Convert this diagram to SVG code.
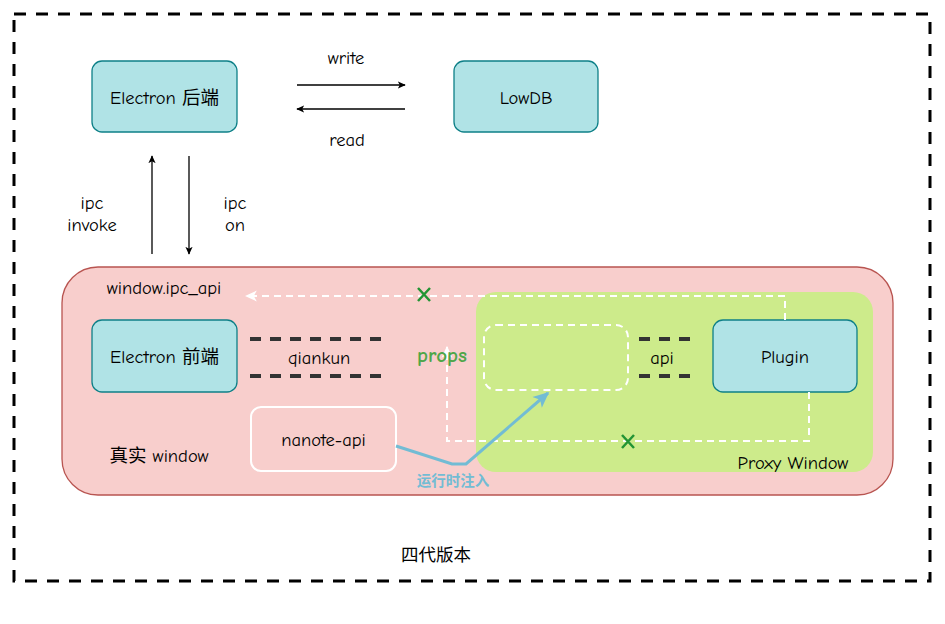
<svg xmlns="http://www.w3.org/2000/svg" width="945" height="624" viewBox="0 0 945 624">
<defs>
<style>
text{font-family:"Comic Neue","Liberation Sans","DejaVu Sans","Noto Sans CJK SC",sans-serif;font-size:18.5px;fill:#000;text-anchor:middle;dominant-baseline:central}
.node{fill:#b0e3e6;stroke:#0e8088;stroke-width:1.3}
.blk{stroke:#000;stroke-width:1.3;fill:none}
.wd{stroke:#fff;stroke-width:2;fill:none;stroke-dasharray:7 5}
.qd{stroke:#333;stroke-width:4;fill:none;stroke-dasharray:11 9}
.x{stroke:#239434;stroke-width:2.5}
</style>
<marker id="ab" viewBox="0 0 10 10" refX="9" refY="5" markerWidth="8" markerHeight="8" markerUnits="userSpaceOnUse" orient="auto"><path d="M0,0.5 L10,5 L0,9.5 L2.5,5 Z" fill="#000"/></marker>
<marker id="aw" viewBox="0 0 10 10" refX="9" refY="5" markerWidth="12" markerHeight="12" markerUnits="userSpaceOnUse" orient="auto"><path d="M0,0.5 L10,5 L0,9.5 L2.5,5 Z" fill="#fff"/></marker>
<marker id="abl" viewBox="0 0 10 10" refX="9" refY="5" markerWidth="16" markerHeight="16" markerUnits="userSpaceOnUse" orient="auto"><path d="M0,0.5 L10,5 L0,9.5 L2.5,5 Z" fill="#72bcd4"/></marker>
</defs>
<rect id="frame" x="14" y="14" width="916" height="567" fill="none" stroke="#000" stroke-width="3" stroke-dasharray="12 10"/>
<text x="436" y="555" style="font-size:17.5px">四代版本</text>

<g id="real-window">
<rect x="62" y="267" width="831" height="228" rx="36" fill="#f8cecc" stroke="#b85450" stroke-width="1.3"/>
<text x="164" y="288">window.ipc_api</text>
<text x="159" y="456">真实 window</text>
</g>
<g id="proxy-window">
<rect x="476" y="292" width="397" height="180" rx="20" fill="#cdeb8b"/>
<text x="793" y="463">Proxy Window</text>
</g>
<g id="props-slot">
<rect x="484" y="325" width="144" height="65" rx="12" class="wd"/>
</g>

<g id="electron-backend"><rect class="node" x="92" y="61" width="145" height="71" rx="10"/><text x="164.5" y="98">Electron 后端</text></g>
<g id="lowdb"><rect class="node" x="454" y="61" width="144" height="71" rx="10"/><text x="526" y="98">LowDB</text></g>
<g id="electron-frontend"><rect class="node" x="92" y="320" width="145" height="72" rx="10"/><text x="164.5" y="357">Electron 前端</text></g>
<g id="plugin"><rect class="node" x="713" y="320" width="144" height="72" rx="10"/><text x="785" y="357">Plugin</text></g>
<g id="nanote-api"><rect x="251" y="407" width="145" height="64" rx="10" fill="#f8cecc" stroke="#fff" stroke-width="2"/><text x="323.5" y="440">nanote-api</text></g>

<g id="connectors">
<line class="blk" x1="297" y1="85" x2="405" y2="85" marker-end="url(#ab)"/>
<line class="blk" x1="405" y1="109" x2="297" y2="109" marker-end="url(#ab)"/>
<line class="blk" x1="152" y1="254" x2="152" y2="156" marker-end="url(#ab)"/>
<line class="blk" x1="189" y1="156" x2="189" y2="254" marker-end="url(#ab)"/>
<line class="qd" x1="250" y1="339" x2="389" y2="339"/>
<line class="qd" x1="250" y1="376" x2="389" y2="376"/>
<line class="qd" x1="639" y1="339" x2="690" y2="339" stroke-dasharray="10 7"/>
<line class="qd" x1="639" y1="376" x2="690" y2="376" stroke-dasharray="10 7"/>
<path class="wd" d="M785,320 V296 H246" marker-end="url(#aw)"/>
<path class="wd" d="M809,392 V441 H447 V347" marker-end="url(#aw)"/>
<path d="M396,446 L452,464 L466,464 L548,393" fill="none" stroke="#72bcd4" stroke-width="3" marker-end="url(#abl)"/>
<path class="x" d="M418,288 L430,301 M430,288 L418,301"/>
<path class="x" d="M622,435 L634,448 M634,435 L622,448"/>
<text x="346" y="58">write</text>
<text x="347" y="140">read</text>
<text x="92" y="203">ipc</text>
<text x="92" y="225">invoke</text>
<text x="235" y="203">ipc</text>
<text x="235" y="225">on</text>
<text x="319" y="358">qiankun</text>
<text x="662" y="358">api</text>
<text x="442" y="355" style="fill:#4fa649;font-weight:bold;font-size:21px">props</text>
<text x="453" y="481" style="fill:#72bcd4;font-weight:bold;font-size:14.5px">运行时注入</text>
</g>
</svg>
